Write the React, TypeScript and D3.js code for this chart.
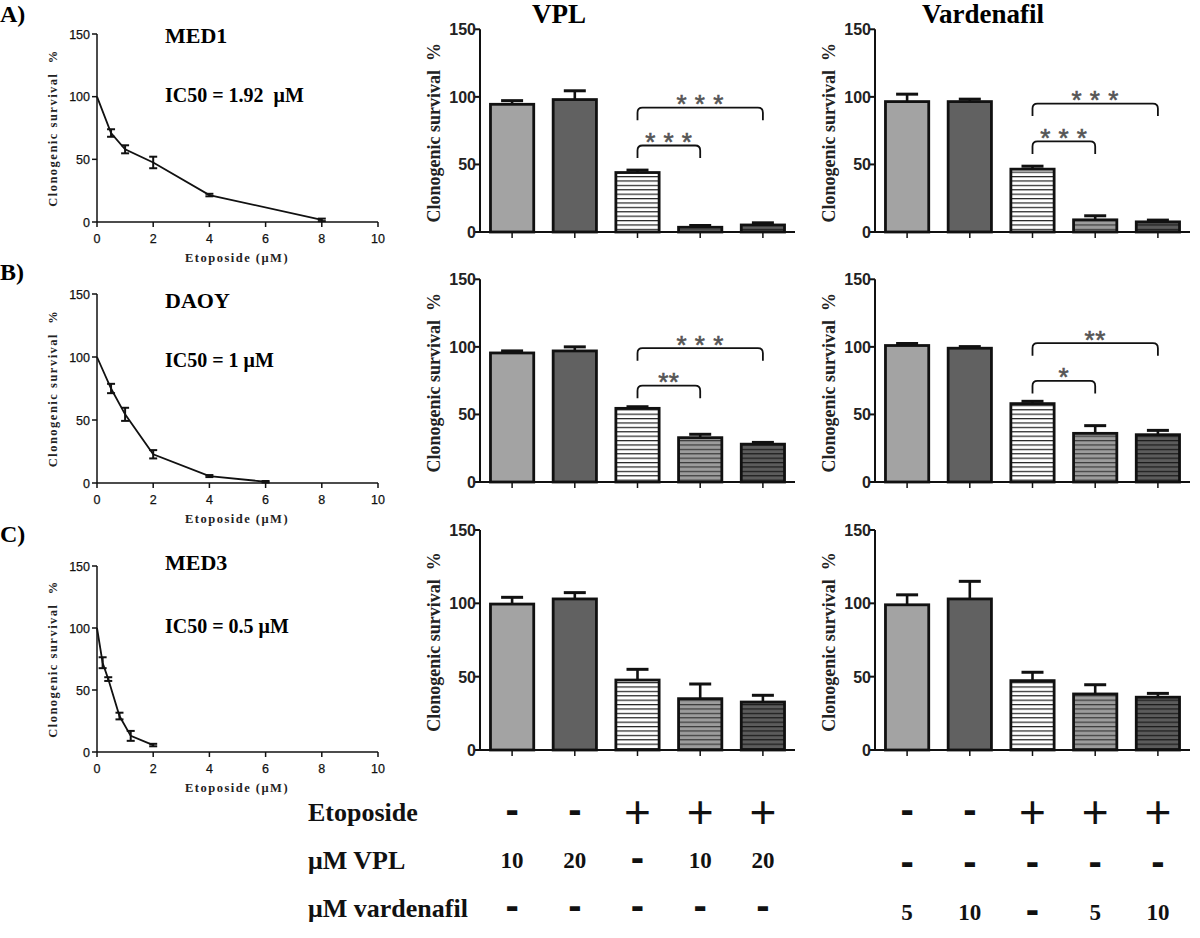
import { useMemo } from "react";
import * as d3 from "d3";

const SERIF = "'Liberation Serif', 'Times New Roman', serif";
const SANS = "'Liberation Sans', Arial, sans-serif";

// dose-response curves, etoposide (µM) -> clonogenic survival (%)
const med1Dose = [0, 0.5, 1, 2, 4, 8];
const med1Surv = [100, 71, 58, 47.5, 21.5, 1.7];
const med1Err = [0, 3, 3.2, 4.6, 1, 1];
const daoyDose = [0, 0.5, 1, 2, 4, 6];
const daoySurv = [100, 75, 54.5, 22.8, 5.5, 1];
const daoyErr = [0, 3.7, 5.2, 3.3, 0.8, 0.6];
const med3Dose = [0, 0.2, 0.4, 0.8, 1.2, 2];
const med3Surv = [100, 72, 58.8, 29, 13, 5.6];
const med3Err = [0, 4.4, 1.5, 2.7, 4, 1];

const doseTicks = [0, 2, 4, 6, 8, 10];
const survTicks = [0, 50, 100, 150];

// bar groups (5 conditions each)
const conditions = ["c1", "c2", "c3", "c4", "c5"];
const vplA = [94.5, 98, 44, 3.5, 5.2];
const vplAErr = [2.7, 6.5, 1.8, 1.3, 1.6];
const vardA = [96.5, 96.5, 46.5, 9, 7.5];
const vardAErr = [5.5, 1.8, 2.2, 3, 1.3];
const vplB = [95.5, 97, 54.5, 32.8, 28];
const vplBErr = [1.5, 3, 1.2, 2.5, 1.3];
const vardB = [101, 99, 58, 36, 35];
const vardBErr = [1.5, 1.2, 1.7, 5.7, 3.2];
const vplC = [99.5, 103, 47.7, 35, 32.7];
const vplCErr = [4.6, 4.3, 7.3, 10, 4.6];
const vardC = [99, 103, 47.3, 38.2, 36];
const vardCErr = [6.8, 12, 5.7, 6.3, 2.6];

// significance brackets: from bar, to bar, level (%), label
const sigFrom = [2, 2];
const sigTo = [3, 4];
const vplASigTop = [64, 92];
const vplASigLabel = ["* * *", "* * *"];
const vardASigTop = [67, 95];
const vardASigLabel = ["* * *", "* * *"];
const vplBSigTop = [71.3, 99];
const vplBSigLabel = ["**", "* * *"];
const vardBSigTop = [74.8, 102.7];
const vardBSigLabel = ["*", "**"];

// treatment table under the bars
const etoRow = ["-", "-", "+", "+", "+"];
const vplDoseVplCol = ["10", "20", "-", "10", "20"];
const vplDoseVardCol = ["-", "-", "-", "-", "-"];
const vardDoseVplCol = ["-", "-", "-", "-", "-"];
const vardDoseVardCol = ["5", "10", "-", "5", "10"];

const FILLS = ["#a3a3a3", "#616161", "url(#stW)", "url(#stM)", "url(#stD)"];

function YLabel({ x, y, size, spacing }: { x: number; y: number; size: number; spacing: number }) {
  return (
    <text transform={`translate(${x},${y}) rotate(-90)`} textAnchor="middle" fontFamily={SERIF} fontWeight="bold"
      fontSize={size} letterSpacing={spacing} fill="#222" style={{ whiteSpace: "pre" }}>Clonogenic survival  %</text>
  );
}

function LinePanel({ y0, y150, dose, surv, err, name, ic50, nameY, icY, tag, tagY }: any) {
  const x = useMemo(() => d3.scaleLinear().domain([0, 10]).range([97, 378]), []);
  const y = useMemo(() => d3.scaleLinear().domain([0, 150]).range([y0, y150]), [y0, y150]);
  const path = d3.line<number>().x((_, i) => x(dose[i])).y((v) => y(v))(surv) ?? "";
  return (
    <g>
      <text x={0} y={tagY} fontFamily={SERIF} fontWeight="bold" fontSize={24}>{tag}</text>
      <text x={165} y={nameY} fontFamily={SERIF} fontWeight="bold" fontSize={22}>{name}</text>
      <text x={165} y={icY} fontFamily={SERIF} fontWeight="bold" fontSize={20} style={{ whiteSpace: "pre" }}>{ic50}</text>
      <line x1={x(0)} x2={x(0)} y1={y(150)} y2={y(0)} stroke="#111" strokeWidth={1.5} />
      <line x1={x(0)} x2={x(10)} y1={y(0)} y2={y(0)} stroke="#111" strokeWidth={1.5} />
      {survTicks.map((t) => (
        <g key={t}>
          <line x1={x(0) - 5} x2={x(0)} y1={y(t)} y2={y(t)} stroke="#111" strokeWidth={1.5} />
          <text x={x(0) - 7} y={y(t) + 4.5} textAnchor="end" fontFamily={SANS} fontSize={12.5} fill="#111"
            stroke="#111" strokeWidth={0.25}>{t}</text>
        </g>
      ))}
      {doseTicks.map((t) => (
        <g key={t}>
          <line x1={x(t)} x2={x(t)} y1={y(0)} y2={y(0) + 5} stroke="#111" strokeWidth={1.5} />
          <text x={x(t)} y={y(0) + 21} textAnchor="middle" fontFamily={SANS} fontSize={12.5} fill="#111"
            stroke="#111" strokeWidth={0.25}>{t}</text>
        </g>
      ))}
      <text x={237} y={y(0) + 40} textAnchor="middle" fontFamily={SERIF} fontWeight="bold" fontSize={12.5}
        letterSpacing={1.5} fill="#222">Etoposide (μM)</text>
      <YLabel x={57} y={(y(0) + y(150)) / 2} size={12.5} spacing={1.5} />
      <path d={path} fill="none" stroke="#111" strokeWidth={1.8} />
      {surv.map((v: number, i: number) => err[i] > 0 ? (
        <g key={i} stroke="#111" strokeWidth={2}>
          <line x1={x(dose[i])} x2={x(dose[i])} y1={y(v - err[i])} y2={y(v + err[i])} />
          <line x1={x(dose[i]) - 4} x2={x(dose[i]) + 4} y1={y(v - err[i])} y2={y(v - err[i])} />
          <line x1={x(dose[i]) - 4} x2={x(dose[i]) + 4} y1={y(v + err[i])} y2={y(v + err[i])} />
        </g>
      ) : null)}
    </g>
  );
}

function BarPanel({ x0, y0, y150, values, errs, sigTop, sigLabel }: any) {
  const x = useMemo(() => d3.scaleBand<string>().domain(conditions).range([x0, x0 + 315]).paddingInner(0.31).paddingOuter(0.167), [x0]);
  const y = useMemo(() => d3.scaleLinear().domain([0, 150]).range([y0, y150]), [y0, y150]);
  const bw = x.bandwidth();
  return (
    <g>
      {conditions.map((c, i) => {
        const v = values[i];
        const cx = (x(c) ?? 0) + bw / 2;
        return (
          <g key={c}>
            <line x1={cx} x2={cx} y1={y(v)} y2={y(v + errs[i])} stroke="#111" strokeWidth={2.6} />
            <line x1={cx - 11} x2={cx + 11} y1={y(v + errs[i])} y2={y(v + errs[i])} stroke="#111" strokeWidth={3} />
            <rect x={x(c)} y={y(v)} width={bw} height={y(0) - y(v)} fill={FILLS[i]} stroke="#111" strokeWidth={2.8} />
            <line x1={cx} x2={cx} y1={y(0)} y2={y(0) + 6} stroke="#111" strokeWidth={1.5} />
          </g>
        );
      })}
      <line x1={x0} x2={x0} y1={y(150)} y2={y(0)} stroke="#111" strokeWidth={2} />
      <line x1={x0} x2={x0 + 315} y1={y(0)} y2={y(0)} stroke="#111" strokeWidth={2} />
      {survTicks.map((t) => (
        <g key={t}>
          <line x1={x0 - 5} x2={x0} y1={y(t)} y2={y(t)} stroke="#111" strokeWidth={2} />
          <text x={x0 - 4} y={y(t) + 6} textAnchor="end" fontFamily={SANS} fontWeight="bold" fontSize={16} fill="#222">{t}</text>
        </g>
      ))}
      <YLabel x={x0 - 40} y={(y(0) + y(150)) / 2 + 2} size={18} spacing={0} />
      {(sigTop ?? []).map((lvl: number, k: number) => {
        const a = (x(conditions[sigFrom[k]]) ?? 0) + bw / 2;
        const b = (x(conditions[sigTo[k]]) ?? 0) + bw / 2;
        const t = y(lvl);
        const r = 5;
        return (
          <g key={k}>
            <path d={`M${a},${t + 12.5}L${a},${t + r}Q${a},${t} ${a + r},${t}L${b - r},${t}Q${b},${t} ${b},${t + r}L${b},${t + 12.5}`}
              fill="none" stroke="#111" strokeWidth={1.8} />
            <text x={(a + b) / 2} y={t - 9.5 + 14.8} textAnchor="middle" fontFamily={SANS} fontSize={26}
              letterSpacing={0.5} fill="#555" stroke="#555" strokeWidth={0.6} style={{ whiteSpace: "pre" }}>{sigLabel[k]}</text>
          </g>
        );
      })}
    </g>
  );
}

function Cell({ cx, cy, v }: { cx: number; cy: number; v: string }) {
  if (v === "+") return <text x={cx} y={cy + 16.3} textAnchor="middle" fontFamily={SANS} fontSize={46} fill="#111">+</text>;
  if (v === "-") return <text x={cx} y={cy + 10.8} textAnchor="middle" fontFamily={SANS} fontWeight="bold" fontSize={40} fill="#111">-</text>;
  return <text x={cx} y={cy + 8} textAnchor="middle" fontFamily={SERIF} fontWeight="bold" fontSize={23} fill="#111">{v}</text>;
}

export default function App() {
  const bandV = d3.scaleBand<string>().domain(conditions).range([480, 795]).paddingInner(0.31).paddingOuter(0.167);
  const bandD = d3.scaleBand<string>().domain(conditions).range([875, 1190]).paddingInner(0.31).paddingOuter(0.167);
  const cV = (i: number) => (bandV(conditions[i]) ?? 0) + bandV.bandwidth() / 2;
  const cD = (i: number) => (bandD(conditions[i]) ?? 0) + bandD.bandwidth() / 2;
  const rows = [
    { label: "Etoposide", y: 812, left: etoRow, right: etoRow },
    { label: "μM VPL", y: 860, left: vplDoseVplCol, right: vplDoseVardCol },
    { label: "μM vardenafil", y: 908, left: vardDoseVplCol, right: vardDoseVardCol },
  ];
  return (
    <div style={{ position: "absolute", left: 0, top: 0, width: 1200, height: 938, background: "#fff" }}>
      <svg width={1200} height={938} viewBox="0 0 1200 938" style={{ display: "block" }}>
        <defs>
          <pattern id="stW" patternUnits="userSpaceOnUse" width={8} height={4.4}>
            <rect width={8} height={4.4} fill="#fff" />
            <rect y={0} width={8} height={1.2} fill="#222" />
          </pattern>
          <pattern id="stM" patternUnits="userSpaceOnUse" width={8} height={4.4}>
            <rect width={8} height={4.4} fill="#9c9c9c" />
            <rect y={0} width={8} height={1.2} fill="#3a3a3a" />
          </pattern>
          <pattern id="stD" patternUnits="userSpaceOnUse" width={8} height={4.4}>
            <rect width={8} height={4.4} fill="#5c5c5c" />
            <rect y={0} width={8} height={1.2} fill="#1a1a1a" />
          </pattern>
        </defs>
        <rect width={1200} height={938} fill="#fff" />

        <text x={559} y={23} textAnchor="middle" fontFamily={SERIF} fontWeight="bold" fontSize={27}>VPL</text>
        <text x={983} y={23} textAnchor="middle" fontFamily={SERIF} fontWeight="bold" fontSize={27}>Vardenafil</text>

        <LinePanel y0={222} y150={34} dose={med1Dose} surv={med1Surv} err={med1Err} name="MED1"
          ic50="IC50 = 1.92  μM" nameY={43} icY={102} tag="A)" tagY={22} />
        <LinePanel y0={483} y150={294} dose={daoyDose} surv={daoySurv} err={daoyErr} name="DAOY"
          ic50="IC50 = 1 μM" nameY={308} icY={367} tag="B)" tagY={280} />
        <LinePanel y0={752} y150={566} dose={med3Dose} surv={med3Surv} err={med3Err} name="MED3"
          ic50="IC50 = 0.5 μM" nameY={570} icY={633} tag="C)" tagY={542} />

        <BarPanel x0={480} y0={232} y150={29.3} values={vplA} errs={vplAErr} sigTop={vplASigTop} sigLabel={vplASigLabel} />
        <BarPanel x0={875} y0={232} y150={29.3} values={vardA} errs={vardAErr} sigTop={vardASigTop} sigLabel={vardASigLabel} />
        <BarPanel x0={480} y0={482} y150={279.3} values={vplB} errs={vplBErr} sigTop={vplBSigTop} sigLabel={vplBSigLabel} />
        <BarPanel x0={875} y0={482} y150={279.3} values={vardB} errs={vardBErr} sigTop={vardBSigTop} sigLabel={vardBSigLabel} />
        <BarPanel x0={480} y0={750} y150={530} values={vplC} errs={vplCErr} />
        <BarPanel x0={875} y0={750} y150={530} values={vardC} errs={vardCErr} />

        {rows.map((r) => (
          <g key={r.label}>
            <text x={308} y={r.y + 8.5} fontFamily={SERIF} fontWeight="bold" fontSize={26} fill="#111">{r.label}</text>
            {r.left.map((v, i) => <Cell key={"l" + i} cx={cV(i)} cy={r.y} v={v} />)}
            {r.right.map((v, i) => <Cell key={"r" + i} cx={cD(i)} cy={r.y + (r.label === "Etoposide" ? 0 : 4)} v={v} />)}
          </g>
        ))}
      </svg>
    </div>
  );
}
